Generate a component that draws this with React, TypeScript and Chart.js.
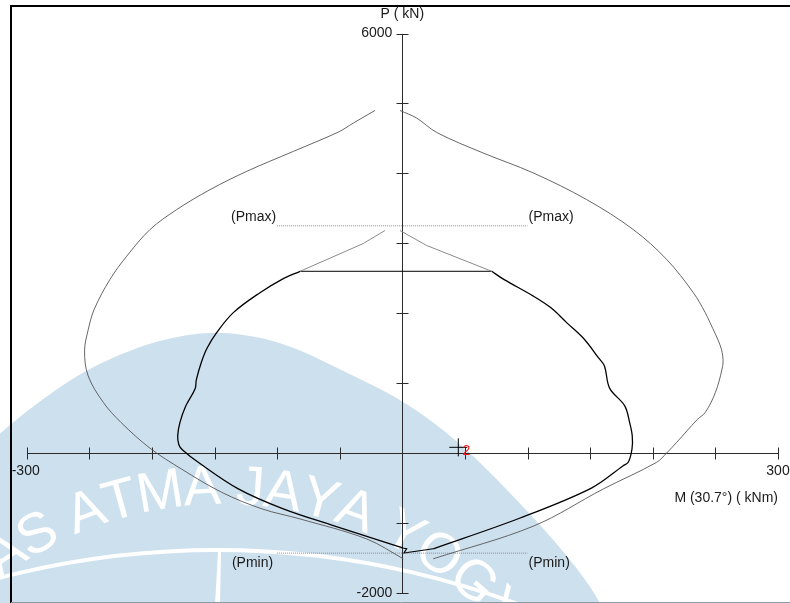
import { useEffect, useRef } from "react";
import { Chart, registerables } from "chart.js";

Chart.register(...registerables);

// ---- Interaction diagram data (M in kNm, P in kN), section angle 30.7° ----

// Nominal capacity curve (Mn, Pn), left branch from top to bottom
const nominalLeft: [number, number][] = [
  [-21.9, 4899], [-39.2, 4719], [-51.1, 4591], [-87.1, 4314], [-124.3, 4029],
  [-153.6, 3767], [-180.2, 3482], [-201.5, 3197], [-220.1, 2816], [-233.5, 2484],
  [-246.0, 2060], [-250.8, 1770], [-253.8, 1461], [-250.9, 1104], [-238.8, 725],
  [-224.7, 439], [-201.5, 70], [-176.4, -227], [-144.4, -559], [-112.1, -797],
  [-81.7, -941], [-28.5, -1227], [0.8, -1511],
];

// Nominal capacity curve, right branch from top to bottom
const nominalRight: [number, number][] = [
  [-1.9, 4899], [11.5, 4790], [27.4, 4585], [64.6, 4291], [104.6, 4006],
  [147.2, 3625], [184.4, 3197], [211.1, 2769], [232.4, 2294], [241.9, 2009],
  [245.7, 1866], [254.0, 1532], [256.1, 1342], [255.3, 1200], [250.0, 867],
  [241.9, 582], [235.5, 480], [219.1, 154], [211.0, 0], [203.1, -131],
  [160.5, -512], [104.6, -1044], [24.7, -1511],
];

// Design curve above the axial cap (unreduced part)
const designTopLeft: [number, number][] = [
  [-13.9, 3183], [-31.2, 2997], [-81.7, 2600],
];
const designTopRight: [number, number][] = [
  [-1.9, 3183], [19.4, 2969], [71.4, 2600],
];

// Axial cap of the design curve
const designCap: [number, number][] = [
  [-81.7, 2600], [71.4, 2600],
];

// Design curve (phi Mn, phi Pn), left branch from the cap down to the tension apex
const designLeft: [number, number][] = [
  [-81.7, 2600], [-96.1, 2484], [-113.7, 2294], [-135.0, 2009], [-148.3, 1723],
  [-156.0, 1500], [-160.5, 1300], [-164.5, 1050], [-165.5, 920], [-172.9, 676],
  [-177.6, 439], [-179.4, 250], [-178.5, 120], [-175.5, 45], [-163.0, -131],
  [-131.0, -511], [-95.1, -797], [-55.1, -1036], [0.8, -1360],
];

// Small step at the tension apex
const designApex: [number, number][] = [
  [0.8, -1360], [3.5, -1366], [1.2, -1430], [24.7, -1368],
];

// Design curve, right branch from the tension apex up to the cap
const designRight: [number, number][] = [
  [24.7, -1368], [93.0, -935], [151.0, -500], [176.4, -180], [180.4, -131],
  [183.4, 59], [183.6, 248], [181.5, 439], [177.6, 676], [165.5, 930],
  [161.4, 1247], [156.5, 1367], [144.6, 1642], [131.2, 1866],
  [118.7, 2077], [104.6, 2245], [81.0, 2484], [71.4, 2600],
];

// Axial limits
const pMax = 3250;
const pMin = -1430;
const limitExtent: [number, number] = [-100, 100];
const limitLabels = ["(Pmax)", "(Pmin)"];

// Factored load points
const loadM = [44.7];
const loadP = [83];
const loadIds = ["2"];

// Axes
const xTicks = [-300, -250, -200, -150, -100, -50, 0, 50, 100, 150, 200, 250, 300];
const yTicks = [-2000, -1000, 0, 1000, 2000, 3000, 4000, 5000, 6000];
const xEndLabels = ["-300", "300"];
const yEndLabels = ["6000", "-2000"];
const xTitle = "M (30.7°) ( kNm)";
const yTitle = "P ( kN)";

const FONT = "14px 'Liberation Sans', Arial, sans-serif";

const toXY = (pts: [number, number][]) => pts.map(([x, y]) => ({ x, y }));

// University watermark behind the plot
const watermarkPlugin = {
  id: "watermark",
  beforeDraw(chart: any) {
    const ctx: CanvasRenderingContext2D = chart.ctx;
    ctx.save();
    const edge: [number, number][] = [
      [-5, 438], [12, 423], [40, 401], [79, 374], [120, 354], [160, 340],
      [210, 331], [262, 337], [300, 350], [325, 362], [362, 380], [396, 397],
      [435, 423], [475, 457], [514, 497], [554, 540], [586, 580], [600, 603],
    ];
    ctx.beginPath();
    ctx.moveTo(-5, 620);
    ctx.lineTo(edge[0][0], edge[0][1]);
    for (let i = 1; i < edge.length - 1; i++) {
      const mx = (edge[i][0] + edge[i + 1][0]) / 2;
      const my = (edge[i][1] + edge[i + 1][1]) / 2;
      ctx.quadraticCurveTo(edge[i][0], edge[i][1], mx, my);
    }
    ctx.lineTo(edge[edge.length - 1][0], edge[edge.length - 1][1]);
    ctx.lineTo(612, 620);
    ctx.closePath();
    ctx.fillStyle = "#cde0ee";
    ctx.fill();

    // inner ring and spire
    ctx.strokeStyle = "#ffffff";
    ctx.lineWidth = 4;
    ctx.beginPath();
    ctx.arc(217, 1414, 864, -Math.PI / 2 - 0.45, -Math.PI / 2 + 0.45);
    ctx.stroke();
    ctx.fillStyle = "#ffffff";
    ctx.beginPath();
    ctx.moveTo(218, 552);
    ctx.lineTo(221, 552);
    ctx.lineTo(220, 605);
    ctx.lineTo(215, 605);
    ctx.closePath();
    ctx.fill();

    // lettering round the ring
    const text = "UNIVERSITAS ATMA JAYA YOGYAKARTA";
    ctx.font = "56px 'Liberation Sans', Arial, sans-serif";
    ctx.textAlign = "center";
    ctx.textBaseline = "alphabetic";
    const cx = 222, cy = 870, advR = 380, baseR = 366;
    const widths = Array.from(text).map((c) => ctx.measureText(c).width);
    const anchor = 10;
    let s = 0;
    const centers: number[] = [];
    widths.forEach((w) => { centers.push(s + w / 2); s += w; });
    const a0 = (-28.8 * Math.PI) / 180 - centers[anchor] / advR;
    Array.from(text).forEach((c, i) => {
      if (c === " ") return;
      const a = a0 + centers[i] / advR;
      ctx.save();
      ctx.translate(cx + baseR * Math.sin(a), cy - baseR * Math.cos(a));
      ctx.rotate(a);
      ctx.fillText(c, 0, 0);
      ctx.restore();
    });
    ctx.restore();
  },
};

// Crossing axes with ticks through the origin
const axesPlugin = {
  id: "crossAxes",
  beforeDatasetsDraw(chart: any) {
    const ctx: CanvasRenderingContext2D = chart.ctx;
    const xs = chart.scales.x;
    const ys = chart.scales.y;
    const snap = (v: number) => Math.round(v) + 0.5;
    const x0 = snap(xs.getPixelForValue(0));
    const y0 = snap(ys.getPixelForValue(0));
    ctx.save();
    ctx.strokeStyle = "#2b2b2b";
    ctx.lineWidth = 1;
    ctx.beginPath();
    ctx.moveTo(snap(xs.getPixelForValue(xTicks[0])), y0);
    ctx.lineTo(snap(xs.getPixelForValue(xTicks[xTicks.length - 1])), y0);
    ctx.moveTo(x0, snap(ys.getPixelForValue(yTicks[yTicks.length - 1])));
    ctx.lineTo(x0, snap(ys.getPixelForValue(yTicks[0])));
    xTicks.forEach((v) => {
      const px = snap(xs.getPixelForValue(v));
      ctx.moveTo(px, y0 - 6);
      ctx.lineTo(px, y0 + 6);
    });
    yTicks.forEach((v) => {
      const py = snap(ys.getPixelForValue(v));
      ctx.moveTo(x0 - 6, py);
      ctx.lineTo(x0 + 6, py);
    });
    ctx.stroke();
    ctx.restore();
  },
  afterDatasetsDraw(chart: any) {
    const ctx: CanvasRenderingContext2D = chart.ctx;
    const xs = chart.scales.x;
    const ys = chart.scales.y;
    const x0 = xs.getPixelForValue(0);
    const y0 = ys.getPixelForValue(0);
    ctx.save();
    ctx.font = FONT;
    ctx.fillStyle = "#1a1a1a";
    ctx.textBaseline = "middle";

    // axis end labels
    ctx.textAlign = "center";
    ctx.fillText(xEndLabels[0], xs.getPixelForValue(xTicks[0]) - 1, y0 + 18);
    ctx.fillText(xEndLabels[1], xs.getPixelForValue(xTicks[xTicks.length - 1]), y0 + 18);
    ctx.textAlign = "right";
    ctx.fillText(yEndLabels[0], x0 - 10, ys.getPixelForValue(yTicks[yTicks.length - 1]));
    ctx.fillText(yEndLabels[1], x0 - 10, ys.getPixelForValue(yTicks[0]));

    // axis titles
    ctx.textAlign = "center";
    ctx.fillText(yTitle, x0, 14);
    ctx.textAlign = "right";
    ctx.fillText(xTitle, xs.getPixelForValue(xTicks[xTicks.length - 1]), y0 + 45);

    // axial limit labels
    ctx.textBaseline = "alphabetic";
    const lx = xs.getPixelForValue(limitExtent[0]);
    const rx = xs.getPixelForValue(limitExtent[1]);
    const yMax = ys.getPixelForValue(pMax);
    const yMin = ys.getPixelForValue(pMin);
    ctx.textAlign = "right";
    ctx.fillText(limitLabels[0], lx - 1, yMax - 4.5);
    ctx.fillText(limitLabels[1], lx - 4, yMin + 14);
    ctx.textAlign = "left";
    ctx.fillText(limitLabels[0], rx + 1, yMax - 4.5);
    ctx.fillText(limitLabels[1], rx + 1, yMin + 14);

    // load point ids
    ctx.fillStyle = "#ff1a1a";
    ctx.textAlign = "center";
    ctx.textBaseline = "middle";
    loadM.forEach((m, i) => {
      ctx.fillText(loadIds[i], xs.getPixelForValue(m) + 8, ys.getPixelForValue(loadP[i]) + 3.5);
    });
    ctx.restore();
  },
  afterDraw(chart: any) {
    const ctx: CanvasRenderingContext2D = chart.ctx;
    ctx.save();
    ctx.strokeStyle = "#000";
    ctx.lineWidth = 2;
    ctx.beginPath();
    ctx.moveTo(11, 603);
    ctx.lineTo(11, 6);
    ctx.lineTo(790, 6);
    ctx.stroke();
    ctx.strokeStyle = "#8a9aa6";
    ctx.lineWidth = 1;
    ctx.beginPath();
    ctx.moveTo(11, 602.5);
    ctx.lineTo(790, 602.5);
    ctx.stroke();
    ctx.restore();
  },
};

const line = (
  data: [number, number][],
  color: string,
  width: number,
  tension = 0,
  dash: number[] = []
) => ({
  data: toXY(data),
  showLine: true,
  borderColor: color,
  borderWidth: width,
  borderDash: dash,
  pointRadius: 0,
  tension,
  fill: false,
});

export default function App() {
  const ref = useRef<HTMLCanvasElement | null>(null);

  useEffect(() => {
    if (!ref.current) return;
    const chart = new Chart(ref.current, {
      type: "scatter",
      data: {
        datasets: [
          line(nominalLeft, "#555555", 0.9, 0.35),
          line(nominalRight, "#555555", 0.9, 0.35),
          line([[limitExtent[0], pMax], [limitExtent[1], pMax]], "#8c8c8c", 1, 0, [1, 1]),
          line([[limitExtent[0], pMin], [limitExtent[1], pMin]], "#8c8c8c", 1, 0, [1, 1]),
          line(designTopLeft, "#8a8a8a", 1),
          line(designTopRight, "#8a8a8a", 1),
          line(designCap, "#000000", 1),
          line(designLeft, "#000000", 1.3, 0.35),
          line(designApex, "#000000", 1.1),
          line(designRight, "#000000", 1.3, 0.35),
          {
            data: loadM.map((m, i) => ({ x: m, y: loadP[i] })),
            showLine: false,
            pointStyle: "cross",
            pointRadius: 9,
            borderColor: "#000000",
            borderWidth: 1,
          } as any,
        ],
      },
      options: {
        animation: false,
        responsive: false,
        devicePixelRatio: 1,
        events: [],
        layout: { padding: { left: 26.7, right: 12, top: 33.5, bottom: 8.7 } },
        plugins: { legend: { display: false }, tooltip: { enabled: false } },
        scales: {
          x: { type: "linear", min: -300, max: 300, display: false },
          y: { type: "linear", min: -2000, max: 6000, display: false },
        },
      },
      plugins: [watermarkPlugin, axesPlugin],
    });
    return () => chart.destroy();
  }, []);

  return (
    <div style={{ position: "fixed", left: 0, top: 0, width: 790, height: 603, background: "#fff" }}>
      <canvas ref={ref} width={790} height={603} style={{ display: "block" }} />
    </div>
  );
}
